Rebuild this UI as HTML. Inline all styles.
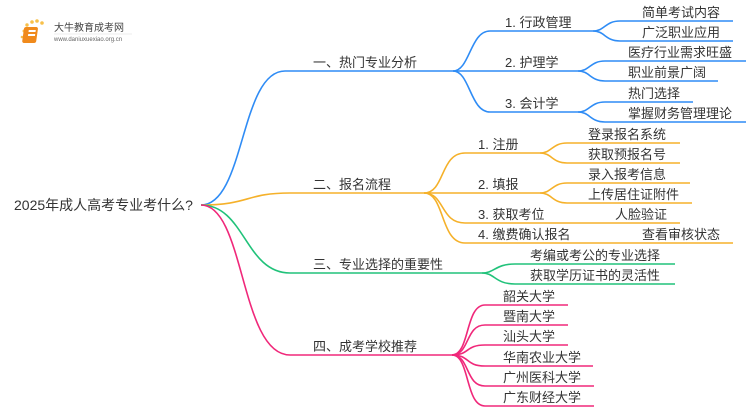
<!DOCTYPE html>
<html><head><meta charset="utf-8"><style>
html,body{margin:0;padding:0;background:#fff;}
svg{display:block;}
text{font-family:"Liberation Sans","Noto Sans CJK SC",sans-serif;font-size:13px;fill:#333;}
</style></head><body>
<svg width="750" height="410" viewBox="0 0 750 410" xmlns="http://www.w3.org/2000/svg">
<!-- logo -->
<g>
<circle cx="24" cy="31" r="1.5" fill="#f7c04a"/><circle cx="27" cy="25" r="1.7" fill="#f7c04a"/>
<circle cx="32" cy="22" r="1.8" fill="#f7c04a"/><circle cx="37" cy="21" r="1.8" fill="#f7c04a"/>
<circle cx="42" cy="23" r="1.8" fill="#f7c04a"/><circle cx="22" cy="37" r="1.3" fill="#f7c04a"/>
<rect x="28" y="27" width="14" height="16" rx="2" fill="#f08a1c" transform="skewX(-8)"/>
<rect x="33" y="30" width="7" height="2" fill="#fff" transform="skewX(-8)"/>
<rect x="33" y="34" width="7" height="2" fill="#fff" transform="skewX(-8)"/>
<text x="54" y="31" style="font-size:10px;fill:#444">大牛教育成考网</text>
<text x="54" y="41" style="font-size:6px;fill:#666">www.daniuxuexiao.org.cn</text>
<line x1="54" y1="34" x2="132" y2="34" stroke="#ddd" stroke-width="0.6"/>
</g>
<text x="14" y="210" style="font-size:14px">2025年成人高考专业考什么?</text>
<g fill="none" stroke-width="1.6">
<!-- blue -->
<g stroke="#2f8cf5">
<path d="M201,205 C245,205 240,71 285,71 L453,71"/>
<path d="M453,71 C470,71 470,31 490,31 L593,31"/>
<path d="M453,71 L578,71"/>
<path d="M453,71 C470,71 470,112 490,112 L578,112"/>
<path d="M593,31 C605,31 605,21 620,21 L733,21"/>
<path d="M593,31 C605,31 605,41 620,41 L733,41"/>
<path d="M578,71 C590,71 590,61 605,61 L746,61"/>
<path d="M578,71 C590,71 590,81 605,81 L718,81"/>
<path d="M578,112 C590,112 590,102 605,102 L693,102"/>
<path d="M578,112 C590,112 590,122 605,122 L746,122"/>
</g>
<!-- orange -->
<g stroke="#f5b12a">
<path d="M201,205 C250,205 245,193 290,193 L424,193"/>
<path d="M424,193 C445,193 440,153 465,153 L540,153"/>
<path d="M424,193 L540,193"/>
<path d="M424,193 C445,193 440,223 465,223 L680,223"/>
<path d="M424,193 C445,193 440,243 465,243 L733,243"/>
<path d="M540,153 C552,153 552,143 567,143 L680,143"/>
<path d="M540,153 C552,153 552,163 567,163 L680,163"/>
<path d="M540,193 C552,193 552,183 567,183 L690,183"/>
<path d="M540,193 C552,193 552,203 567,203 L692,203"/>
</g>
<!-- green -->
<g stroke="#21c27a">
<path d="M201,205 C245,205 245,273 290,273 L482,273"/>
<path d="M482,273 C495,273 495,264 515,264 L675,264"/>
<path d="M482,273 C495,273 495,284 515,284 L675,284"/>
</g>
<!-- pink -->
<g stroke="#f0287a">
<path d="M201,205 C245,205 240,355 290,355 L452,355"/>
<path d="M452,355 C470,355 465,305 485,305 L568,305"/>
<path d="M452,355 C470,355 465,325 485,325 L568,325"/>
<path d="M452,355 C470,355 465,345 485,345 L568,345"/>
<path d="M452,355 C470,355 465,366 485,366 L593,366"/>
<path d="M452,355 C470,355 465,386 485,386 L594,386"/>
<path d="M452,355 C470,355 465,406 485,406 L594,406"/>
</g>
</g>
<text x="313" y="67">一、热门专业分析</text>
<text x="313" y="189">二、报名流程</text>
<text x="313" y="269">三、专业选择的重要性</text>
<text x="313" y="351">四、成考学校推荐</text>
<text x="505" y="27">1. 行政管理</text>
<text x="505" y="67">2. 护理学</text>
<text x="505" y="108">3. 会计学</text>
<text x="642" y="17">简单考试内容</text>
<text x="642" y="37">广泛职业应用</text>
<text x="628" y="57">医疗行业需求旺盛</text>
<text x="628" y="77">职业前景广阔</text>
<text x="628" y="98">热门选择</text>
<text x="628" y="118">掌握财务管理理论</text>
<text x="478" y="149">1. 注册</text>
<text x="478" y="189">2. 填报</text>
<text x="478" y="219">3. 获取考位</text>
<text x="478" y="239">4. 缴费确认报名</text>
<text x="588" y="139">登录报名系统</text>
<text x="588" y="159">获取预报名号</text>
<text x="588" y="179">录入报考信息</text>
<text x="588" y="199">上传居住证附件</text>
<text x="615" y="219">人脸验证</text>
<text x="642" y="239">查看审核状态</text>
<text x="530" y="260">考编或考公的专业选择</text>
<text x="530" y="280">获取学历证书的灵活性</text>
<text x="503" y="301">韶关大学</text>
<text x="503" y="321">暨南大学</text>
<text x="503" y="341">汕头大学</text>
<text x="503" y="362">华南农业大学</text>
<text x="503" y="382">广州医科大学</text>
<text x="503" y="402">广东财经大学</text>
</svg>
</body></html>
